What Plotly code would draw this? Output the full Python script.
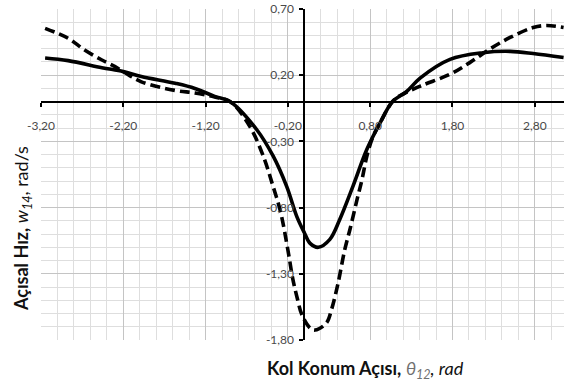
import plotly.graph_objects as go

# Crank angle (rad) and angular velocity w14 (rad/s) for the two mechanisms
theta_solid = [-3.15, -2.87, -2.46, -2.20, -1.98, -1.57, -1.33, -1.09, -0.90,
               -0.58, -0.38, -0.215, -0.09, 0.00, 0.07, 0.17, 0.31, 0.43,
               0.59, 0.76, 0.92, 1.07, 1.24, 1.41, 1.77, 2.17, 2.50, 2.78, 3.15]
w_solid = [0.33, 0.31, 0.257, 0.227, 0.19, 0.139, 0.10, 0.04, 0.00,
           -0.21, -0.41, -0.64, -0.87, -0.99, -1.07, -1.10, -1.04, -0.89,
           -0.64, -0.36, -0.16, 0.00, 0.075, 0.18, 0.32, 0.37, 0.38, 0.364, 0.333]

theta_dashed = [-3.15, -2.87, -2.67, -2.46, -2.30, -2.20, -1.98, -1.57, -1.33,
                -1.09, -0.90, -0.66, -0.50, -0.38, -0.29, -0.20, -0.14, -0.08,
                -0.03, 0.07, 0.13, 0.27, 0.33, 0.41, 0.49, 0.56, 0.64, 0.70,
                0.76, 0.83, 0.92, 1.07, 1.16, 1.41, 1.77, 2.01, 2.26, 2.50,
                2.78, 2.94, 3.15]
w_dashed = [0.554, 0.479, 0.39, 0.315, 0.265, 0.227, 0.15, 0.085, 0.066,
            0.035, 0.00, -0.19, -0.41, -0.64, -0.83, -1.12, -1.34, -1.50,
            -1.61, -1.71, -1.725, -1.67, -1.57, -1.37, -1.12, -0.95, -0.74, -0.59,
            -0.41, -0.27, -0.16, 0.00, 0.045, 0.118, 0.207, 0.295, 0.40, 0.485,
            0.56, 0.575, 0.56]

x_tick_vals = [-3.2, -2.2, -1.2, -0.2, 0.8, 1.8, 2.8]
x_tick_text = ["-3,20", "-2,20", "-1,20", "-0,20", "0,80", "1,80", "2,80"]
y_tick_vals = [0.7, 0.2, -0.3, -0.8, -1.3, -1.8]
y_tick_text = ["0,70", "0,20", "-0,30", "-0,80", "-1,30", "-1,80"]

X_RANGE = [-3.2, 3.155]
Y_RANGE = [-1.8, 0.7]

fig = go.Figure()
fig.add_trace(go.Scatter(
    x=theta_solid, y=w_solid, mode="lines",
    line=dict(color="black", width=3.6, shape="spline", smoothing=1.0),
    showlegend=False, hoverinfo="skip"))
fig.add_trace(go.Scatter(
    x=theta_dashed, y=w_dashed, mode="lines",
    line=dict(color="black", width=3.6, dash="10px,5px", shape="spline", smoothing=1.0),
    showlegend=False, hoverinfo="skip"))

tick_font = dict(family="Lato, Carlito, sans-serif", size=12, color="#4a4a4a")
title_font = dict(family="Lato, Carlito, sans-serif", size=18, color="#111111")

fig.update_layout(
    width=564, height=385,
    margin=dict(l=41, r=0, t=9, b=45),
    paper_bgcolor="white", plot_bgcolor="white",
    xaxis=dict(
        range=X_RANGE, anchor="free",
        position=(0 - Y_RANGE[0]) / (Y_RANGE[1] - Y_RANGE[0]),
        tickmode="array", tickvals=x_tick_vals, ticktext=x_tick_text,
        showline=True, linecolor="black", linewidth=2,
        ticks="outside", ticklen=4, tickwidth=2, tickcolor="black",
        ticklabelstandoff=9, tickfont=tick_font,
        showgrid=True, gridcolor="#c4c4c4", gridwidth=1,
        minor=dict(tick0=-3.2, dtick=0.2, showgrid=True, gridcolor="#dedede", gridwidth=1),
        zeroline=False, fixedrange=True,
    ),
    yaxis=dict(
        range=Y_RANGE, anchor="free",
        position=(0 - X_RANGE[0]) / (X_RANGE[1] - X_RANGE[0]),
        tickmode="array", tickvals=y_tick_vals, ticktext=y_tick_text,
        showline=True, linecolor="black", linewidth=2,
        ticks="outside", ticklen=4, tickwidth=2, tickcolor="black",
        ticklabelstandoff=3, tickfont=tick_font,
        showgrid=True, gridcolor="#c4c4c4", gridwidth=1,
        minor=dict(tick0=0.7, dtick=0.1, showgrid=True, gridcolor="#dedede", gridwidth=1),
        zeroline=False, fixedrange=True,
    ),
    annotations=[
        dict(text="<b>Kol Konum Açısı,</b> <i><span style='color:#707070'>θ<sub>12</sub></span>, rad</i>",
             xref="paper", yref="paper", x=(365 - 41) / 523, y=(340 - 370) / 331,
             xanchor="center", yanchor="middle", showarrow=False, font=title_font),
        dict(text="<b>Açısal Hız,</b> <i>w<sub>14</sub></i>, rad/s",
             xref="paper", yref="paper", x=(22 - 41) / 523, y=(340 - 229) / 331,
             xanchor="center", yanchor="middle", textangle=-90, showarrow=False,
             font=title_font),
    ],
)

fig.write_html("out.html")
